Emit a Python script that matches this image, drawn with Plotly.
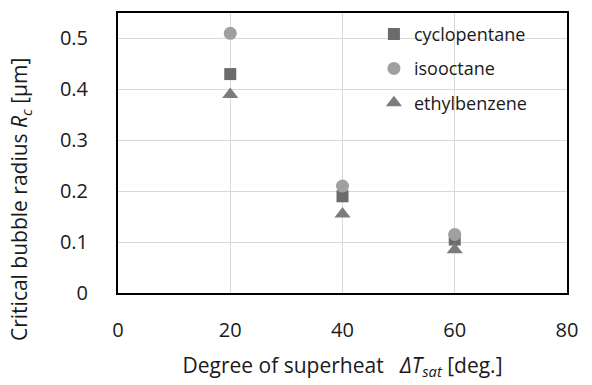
import plotly.graph_objects as go

# Degree of superheat (deg.)
superheat = [20, 40, 60]

# Critical bubble radius (um) per fluid
cyclopentane = [0.43, 0.19, 0.105]
isooctane = [0.51, 0.21, 0.115]
ethylbenzene = [0.39, 0.155, 0.085]

series = [
    ("cyclopentane", cyclopentane, "square", "#6b6b6b", 12),
    ("isooctane", isooctane, "circle", "#a0a0a0", 13),
    ("ethylbenzene", ethylbenzene, "triangle-up", "#7c7c7c", 14),
]

FONT = "Open Sans, DejaVu Sans, sans-serif"

fig = go.Figure()
for i, (name, vals, sym, col, size) in enumerate(series):
    fig.add_trace(go.Scatter(
        x=superheat, y=vals, mode="markers", name=name,
        legendgroup=f"g{i}",
        marker=dict(symbol=sym, color=col, size=size, line=dict(width=0)),
    ))

fig.update_layout(
    width=592, height=385,
    margin=dict(l=118, r=25, t=11, b=92),
    paper_bgcolor="white", plot_bgcolor="white",
    font=dict(family=FONT, size=20, color="#1a1a1a"),
    showlegend=True,
    legend=dict(
        x=0.57, y=0.99, xanchor="left", yanchor="top",
        bgcolor="rgba(0,0,0,0)", font=dict(size=18, color="#1a1a1a"),
        traceorder="grouped", tracegroupgap=8,
    ),
    xaxis=dict(
        range=[0, 80], dtick=20, showgrid=True, gridcolor="#d9d9d9", gridwidth=1,
        zeroline=False, showline=True, linecolor="black", linewidth=2, mirror=True,
        ticks="", ticklabelstandoff=18,
        title=dict(text="Degree of superheat   <i>ΔT<sub>sat</sub></i> [deg.]",
                   font=dict(size=21), standoff=16),
    ),
    yaxis=dict(
        range=[0, 0.55], dtick=0.1, showgrid=True, gridcolor="#d9d9d9", gridwidth=1,
        zeroline=False, showline=True, linecolor="black", linewidth=2, mirror=True,
        ticks="", ticklabelstandoff=24, tickformat="~g",
    ),
    annotations=[dict(
        text="Critical bubble radius <i>R<sub>c</sub></i> [μm]",
        textangle=-90, xref="paper", yref="paper",
        x=-0.218, y=-0.18, xanchor="center", yanchor="bottom",
        showarrow=False, font=dict(size=21, color="#1a1a1a"),
    )],
)

fig.write_html("out.html")
